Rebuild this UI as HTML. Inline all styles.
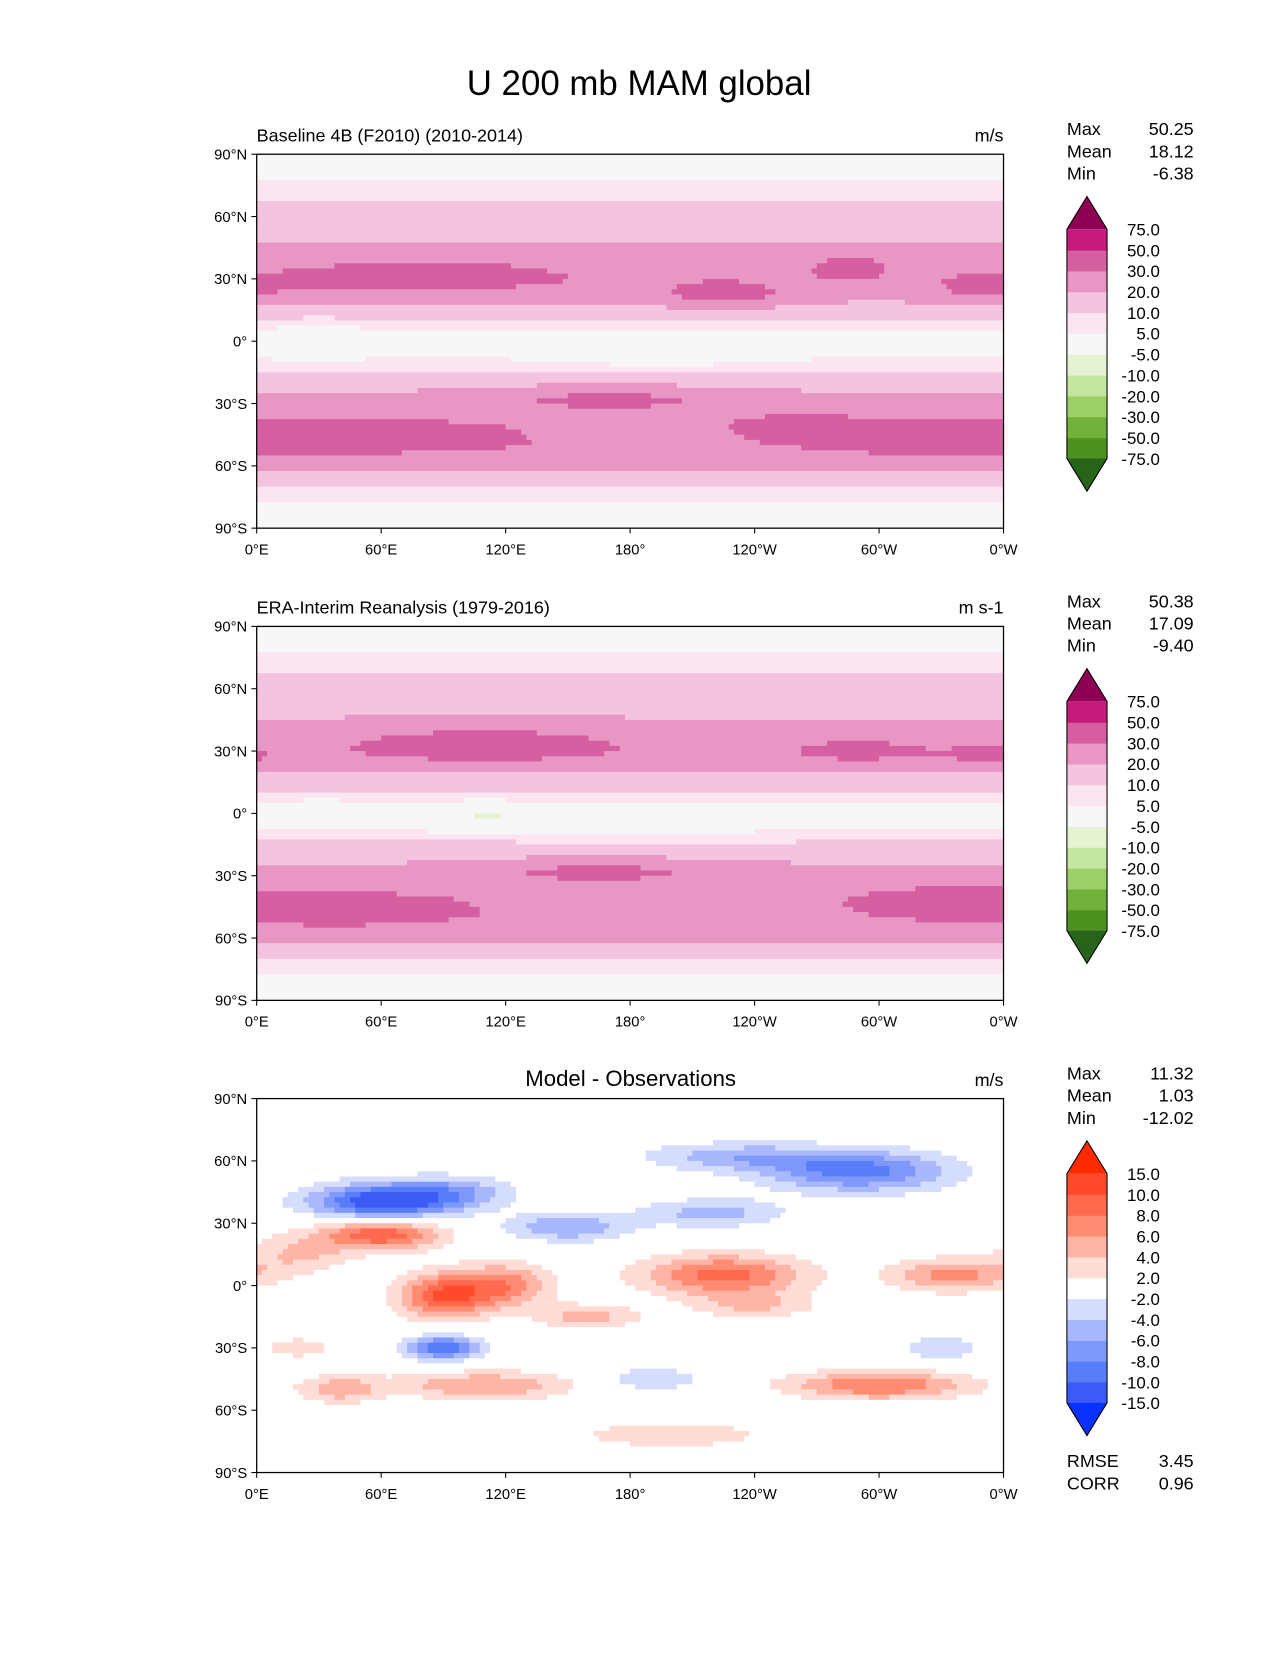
<!DOCTYPE html>
<html><head><meta charset="utf-8">
<style>
body{margin:0;background:#fff;}
svg text{font-family:"Liberation Sans","DejaVu Sans",sans-serif;}
</style></head>
<body>
<svg id="fig" width="1275" height="1650" viewBox="0 0 1207 1562" xmlns="http://www.w3.org/2000/svg">
<rect width="1207" height="1562" fill="#fff"/>
<text x="605" y="90" font-size="33" text-anchor="middle">U 200 mb MAM global</text>
</svg>
<script>
// ---- data ----
const lats = [90,80,70,60,50,40,30,20,10,0,-10,-20,-30,-40,-50,-60,-70,-80,-90];
const zonal1 = [1,4,9,14,19,23,26,21,9,1,6,16,24,28,29,23,9,4,1];
const zonal2 = [1,4,9,14,18,22,26,20,9,1,7,16,24,28,28,22,9,4,1];
const zonal3 = [0,0,0,0,0,0,0,0,0,0,0,0,0,0,0,0,0,0,0];
// blobs: [lon, lat, rxDeg, ryDeg, amplitude]
const blobs1 = [[80,31,70,9,12],[225,22,35,7,12],[285,36,22,7,10],[350,25,25,7,9],[40,-46,70,8,10],[325,-46,50,8,10],[170,-27,65,6,10],[260,-40,30,6,6],[30,0,20,8,-5],[195,-10,50,6,-3],[160,-45,20,5,-6]];
const blobs2 = [[110,33,65,9,13],[290,30,35,7,9],[350,27,20,6,8],[40,-47,55,8,9],[335,-43,40,7,10],[165,-27,65,6,10],[110,-2,40,6,-7],[30,0,15,6,-4],[195,-10,50,6,-3],[165,-45,20,4,-6]];
const zonal3Blobs = null;
const blobs3 = [[60,40,35,9,-12],[95,45,30,8,-5],[60,25,30,8,10],[90,-5,22,11,10],[120,0,22,11,7],[225,5,40,10,9],[335,5,30,8,7],[300,-48,45,7,8],[110,-48,45,7,6],[40,-50,20,7,5],[290,55,45,10,-9],[90,-30,18,6,-10],[150,28,30,7,-6],[220,35,35,7,-5],[230,62,45,7,-5],[160,-15,25,6,5],[20,15,25,10,4],[190,-45,25,6,-4],[330,-30,18,6,-4],[240,-10,30,6,4],[20,-30,20,6,3],[200,-72,60,8,3]];
const levels1 = [-75,-50,-30,-20,-10,-5,5,10,20,30,50,75];
const colors1 = ["#276419","#4d9221","#72b03c","#9dd068","#c3e6a0","#e6f3d3","#f7f7f7","#fbe5f1","#f4c3df","#e897c4","#d55fa0","#c51b7d","#8e0152"];
const levels3 = [-15,-10,-8,-6,-4,-2,2,4,6,8,10,15];
const colors3 = ["#0a32ff","#3c5af5","#587df9","#7f98fb","#a9b8fd","#d5ddfd","#ffffff","#ffdcd6","#ffb5a5","#ff8b73","#ff6a4f","#ff4a2b","#ff2a00"];
const levelLabels1 = ["-75.0","-50.0","-30.0","-20.0","-10.0","-5.0","5.0","10.0","20.0","30.0","50.0","75.0"];
const levelLabels3 = ["-15.0","-10.0","-8.0","-6.0","-4.0","-2.0","2.0","4.0","6.0","8.0","10.0","15.0"];
const lonTicks = ["0°E","60°E","120°E","180°","120°W","60°W","0°W"];
const latTicks = ["90°N","60°N","30°N","0°","30°S","60°S","90°S"];
const panels = [
 {top:146, title:"Baseline 4B (F2010) (2010-2014)", units:"m/s", stats:["50.25","18.12","-6.38"], zonal:zonal1, blobs:blobs1, lv:levels1, col:colors1, lab:levelLabels1, center:false},
 {top:593, title:"ERA-Interim Reanalysis (1979-2016)", units:"m s-1", stats:["50.38","17.09","-9.40"], zonal:zonal2, blobs:blobs2, lv:levels1, col:colors1, lab:levelLabels1, center:false},
 {top:1040, title:"Model - Observations", units:"m/s", stats:["11.32","1.03","-12.02"], zonal:zonal3, blobs:blobs3, lv:levels3, col:colors3, lab:levelLabels3, center:true}
];
// ---- drawing ----
const NS="http://www.w3.org/2000/svg";
const svg=document.getElementById('fig');
const X0=243,W=707,H=354;
function mk(t,a,p){const e=document.createElementNS(NS,t);for(const k in a)e.setAttribute(k,a[k]);(p||svg).appendChild(e);return e;}
function xs(lon){return X0+lon/360*W;}
function ys(top,lat){return top+(90-lat)/180*H;}
function zon(z,lat){const i=(90-lat)/10;const i0=Math.min(17,Math.floor(i));const f=i-i0;return z[i0]*(1-f)+z[i0+1]*f;}
function val(p,lon,lat){let v=zon(p.zonal,lat);for(const b of p.blobs){let d=Math.abs(lon-b[0]);if(d>180)d=360-d;v+=b[4]*Math.exp(-((d/b[2])**2+((lat-b[1])/b[3])**2));}return v;}
function cls(lv,v){let k=0;while(k<lv.length&&v>lv[k])k++;return k;}
panels.forEach((p,pi)=>{
 const g=mk('g',{});
 
 
 const step=2.5;
 for(let lat=90;lat>-90;lat-=step){
  const lc=lat-step/2;let start=0,cur=null;
  for(let lon=0;lon<=360;lon+=step){
   const c= lon<360? cls(p.lv,val(p,lon+step/2,lc)) : -1;
   if(c!==cur){
    if(cur!==null){const r=mk('rect',{x:xs(start).toFixed(2),y:ys(p.top,lat).toFixed(2),width:(xs(lon)-xs(start)+0.4).toFixed(2),height:(H*step/180+0.4).toFixed(2),fill:p.col[cur]},g);
     
     }
    cur=c;start=lon;}
  }
 }
 const fr=mk('rect',{x:X0,y:p.top,width:W,height:H,fill:'none',stroke:'#000','stroke-width':1.2});
 
 
 lonTicks.forEach((t,i)=>{const x=X0+i*W/6;mk('line',{x1:x,x2:x,y1:p.top+H,y2:p.top+H+5,stroke:'#000'});
  const tx=mk('text',{x:x,y:p.top+H+25,'font-size':14,'text-anchor':'middle'});tx.textContent=t;
  
  });
 latTicks.forEach((t,i)=>{const y=p.top+i*H/6;mk('line',{x1:X0-5,x2:X0,y1:y,y2:y,stroke:'#000'});
  const tx=mk('text',{x:X0-9,y:y+5,'font-size':14,'text-anchor':'end'});tx.textContent=t;
  
  });
 const tt=mk('text',p.center?{x:597,y:p.top-12,'font-size':21,'text-anchor':'middle'}:{x:X0,y:p.top-12,'font-size':17});tt.textContent=p.title;
 
 
 const ut=mk('text',{x:950,y:p.top-12,'font-size':17,'text-anchor':'end'});ut.textContent=p.units;
 
 
 ["Max","Mean","Min"].forEach((s,i)=>{const y=p.top-18+i*21;
  const a=mk('text',{x:1010,y:y,'font-size':17});a.textContent=s;
  
  
  const b=mk('text',{x:1130,y:y,'font-size':17,'text-anchor':'end'});b.textContent=p.stats[i];
  
  });
 const cbT=p.top+40,bx=1010,bw=38,tri=31,body=217,n=p.lv.length-1,seg=body/n;
 const cb=mk('g',{});
 
 
 mk('polygon',{points:`${bx},${cbT+tri} ${bx+bw/2},${cbT} ${bx+bw},${cbT+tri}`,fill:p.col[n+1]},cb);
 for(let k=0;k<n;k++){mk('rect',{x:bx,y:cbT+tri+(n-1-k)*seg,width:bw,height:seg+0.5,fill:p.col[k+1]},cb);}
 const yb=cbT+tri+body;
 mk('polygon',{points:`${bx},${yb} ${bx+bw/2},${yb+tri} ${bx+bw},${yb}`,fill:p.col[0]},cb);
 mk('polygon',{points:`${bx},${cbT+tri} ${bx+bw/2},${cbT} ${bx+bw},${cbT+tri} ${bx+bw},${yb} ${bx+bw/2},${yb+tri} ${bx},${yb}`,fill:'none',stroke:'#000','stroke-width':1},cb);
 p.lab.forEach((l,k)=>{const y=cbT+tri+(n-k)*seg;
  const t=mk('text',{x:1098,y:y+6,'font-size':16,'text-anchor':'end'},cb);t.textContent=l;
  
  });
});
[["RMSE","3.45",1389],["CORR","0.96",1410]].forEach(r=>{
 const a=mk('text',{x:1010,y:r[2],'font-size':17});a.textContent=r[0];
 
 
 const b=mk('text',{x:1130,y:r[2],'font-size':17,'text-anchor':'end'});b.textContent=r[1];
 
 });
</script>
</body></html>
